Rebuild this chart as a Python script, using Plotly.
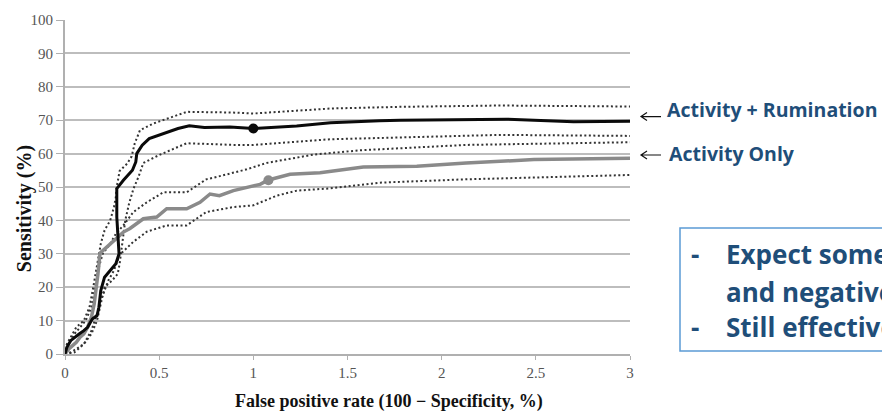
import plotly.graph_objects as go

# ROC curves: sensitivity vs false positive rate (x in %, y in %)
ar_x = [0, 0.01, 0.03, 0.05, 0.075, 0.1, 0.12, 0.145, 0.17, 0.18, 0.19, 0.21, 0.234, 0.27, 0.287,
        0.28, 0.275, 0.275, 0.31, 0.358, 0.376, 0.381, 0.41, 0.447, 0.527, 0.6, 0.66, 0.74, 0.876,
        1.0, 1.23, 1.41, 1.67, 1.78, 2.345, 2.7, 3.0]
ar_y = [0, 2, 4, 5, 6, 7, 8, 10.5, 11.5, 14, 19, 23, 24.5, 27, 30,
        35, 41, 49.5, 52, 55, 57.5, 60, 62.5, 64.5, 66, 67.5, 68.3, 67.8, 68,
        67.5, 68.3, 69.2, 69.8, 70, 70.3, 69.5, 69.7]

ar_hi_x = [0, 0.01, 0.03, 0.06, 0.1, 0.13, 0.15, 0.17, 0.19, 0.21, 0.24, 0.26, 0.27, 0.274, 0.29,
           0.33, 0.354, 0.37, 0.398, 0.469, 0.54, 0.646, 0.89, 1.0, 1.41, 1.78, 2.31, 3.0]
ar_hi_y = [0, 3, 5, 8, 10, 14, 20, 27, 33, 37, 40, 44, 47, 49.8, 54.8,
           57, 59.2, 63, 67, 69, 70.5, 72.5, 72.3, 72, 73.5, 74, 74.4, 74.1]

ar_lo_x = [0, 0.03, 0.06, 0.1, 0.14, 0.17, 0.19, 0.21, 0.25, 0.28, 0.29, 0.3, 0.31, 0.32, 0.34,
           0.363, 0.39, 0.416, 0.505, 0.646, 0.894, 1.0, 1.41, 1.78, 2.31, 3.0]
ar_lo_y = [0, 0.5, 1.5, 3, 6, 10, 15, 20, 22, 24, 27, 31, 36, 40, 45,
           49.4, 53, 57.2, 59.7, 63.1, 62.6, 62.6, 64.3, 64.8, 65.6, 65.3]

ao_x = [0, 0.02, 0.04, 0.06, 0.08, 0.1, 0.12, 0.14, 0.155, 0.165, 0.175, 0.186, 0.23, 0.274, 0.31,
        0.345, 0.38, 0.416, 0.487, 0.54, 0.646, 0.717, 0.77, 0.82, 0.894, 1.036, 1.08, 1.195, 1.354,
        1.584, 1.868, 2.13, 2.49, 3.0]
ao_y = [0, 1.5, 2.5, 3.5, 5, 6, 8, 11, 15, 19, 24, 30.2, 32.5, 34.6, 36.5,
        37.6, 39, 40.5, 41, 43.5, 43.5, 45.4, 47.9, 47.4, 48.9, 50.8, 52.1, 53.8, 54.3,
        56, 56.2, 57.2, 58.2, 58.6]

ao_hi_x = [0, 0.02, 0.05, 0.08, 0.11, 0.14, 0.16, 0.18, 0.2, 0.24, 0.27, 0.31, 0.363, 0.434, 0.522,
           0.646, 0.75, 0.79, 0.965, 1.07, 1.32, 1.57, 2.13, 3.0]
ao_hi_y = [0, 3, 6, 8, 10, 14, 20, 26, 30, 33, 36, 38.5, 42.5, 45.4, 48.4,
           48.4, 52.3, 52.8, 55.3, 57.2, 59.7, 61, 62.6, 63.4]

ao_lo_x = [0, 0.05, 0.1, 0.14, 0.17, 0.19, 0.21, 0.23, 0.26, 0.29, 0.363, 0.434, 0.54, 0.646,
           0.75, 0.894, 1.0, 1.124, 1.23, 1.41, 1.67, 2.13, 3.0]
ao_lo_y = [0, 0.5, 3, 7, 12, 16, 19, 22, 25, 29.7, 33.6, 36.6, 38.5, 38.5,
           42.5, 44, 44.5, 47.4, 48.9, 49.6, 51.3, 52.3, 53.6]

# Operating points highlighted on each curve
ar_point = (1.0, 67.5)
ao_point = (1.08, 52.0)

x_ticks = [0, 0.5, 1, 1.5, 2, 2.5, 3]
x_tick_text = ["0", "0.5", "1", "1.5", "2", "2.5", "3"]
y_ticks = [0, 10, 20, 30, 40, 50, 60, 70, 80, 90, 100]

label_ar = "Activity + Rumination"
label_ao = "Activity Only"
note_lines = ["Expect some false positives", "and negatives", "Still effective"]
note_dashes = ["-", "", "-"]
x_title = "False positive rate (100 \u2212 Specificity, %)"
y_title = "Sensitivity (%)"

W, H = 882, 415
L, R, T, B = 65, 252, 15, 61
PW, PH = W - L - R, H - T - B


def px(xp):
    return (xp - L) / PW


def py(yp):
    return (H - B - yp) / PH


SERIF = "Liberation Serif, Times New Roman, serif"
SANS = "Open Sans, sans-serif"
BLUE = "#1f4e79"
DOT = dict(color="#333333", width=2, dash="2px,2.5px")

fig = go.Figure()
for xs, ys in [(ar_hi_x, ar_hi_y), (ar_lo_x, ar_lo_y), (ao_hi_x, ao_hi_y), (ao_lo_x, ao_lo_y)]:
    fig.add_trace(go.Scatter(x=xs, y=ys, mode="lines", line=DOT, hoverinfo="skip"))

fig.add_trace(go.Scatter(x=ao_x, y=ao_y, mode="lines", name=label_ao,
                         line=dict(color="#8a8a8a", width=3.5)))
fig.add_trace(go.Scatter(x=ar_x, y=ar_y, mode="lines", name=label_ar,
                         line=dict(color="#0a0a0a", width=3)))
fig.add_trace(go.Scatter(x=[ao_point[0]], y=[ao_point[1]], mode="markers",
                         marker=dict(color="#8a8a8a", size=10)))
fig.add_trace(go.Scatter(x=[ar_point[0]], y=[ar_point[1]], mode="markers",
                         marker=dict(color="#0a0a0a", size=10)))

annotations = [
    dict(text=x_title, x=px(389), y=py(402), xref="paper", yref="paper",
         xanchor="center", yanchor="middle", showarrow=False,
         font=dict(family=SERIF, size=18, color="#111", weight="bold")),
    dict(text=y_title, x=px(24), y=py(207), xref="paper", yref="paper",
         xanchor="center", yanchor="middle", showarrow=False, textangle=-90,
         font=dict(family=SERIF, size=20, color="#111", weight="bold")),
    dict(text=label_ar, x=px(665), y=py(106), xref="paper", yref="paper",
         xanchor="left", yanchor="middle", showarrow=False,
         font=dict(family=SANS, size=19.5, color=BLUE, weight="bold")),
    dict(text=label_ao, x=px(667), y=py(150), xref="paper", yref="paper",
         xanchor="left", yanchor="middle", showarrow=False,
         font=dict(family=SANS, size=19.5, color=BLUE, weight="bold")),
]
line_y = [253, 291, 327]
for dash, text, yy in zip(note_dashes, note_lines, line_y):
    if dash:
        annotations.append(dict(text=dash, x=px(689), y=py(yy), xref="paper", yref="paper",
                                xanchor="left", yanchor="middle", showarrow=False,
                                font=dict(family=SANS, size=26, color=BLUE, weight="bold")))
    annotations.append(dict(text=text, x=px(724), y=py(yy), xref="paper", yref="paper",
                            xanchor="left", yanchor="middle", showarrow=False,
                            font=dict(family=SANS, size=26, color=BLUE, weight="bold")))


def arrow_path(tip_x, tip_y, length=20, head=6, spread=4):
    x0, y0 = px(tip_x), py(tip_y)
    x1 = px(tip_x + length)
    hx = px(tip_x + head)
    up, dn = py(tip_y - spread), py(tip_y + spread)
    return f"M {x1},{y0} L {x0},{y0} M {hx},{up} L {x0},{y0} L {hx},{dn}"


shapes = [
    dict(type="path", path=arrow_path(641, 113), xref="paper", yref="paper",
         line=dict(color="#111", width=1.2)),
    dict(type="path", path=arrow_path(641, 152), xref="paper", yref="paper",
         line=dict(color="#111", width=1.2)),
    dict(type="rect", x0=px(680), x1=px(900), y0=py(351), y1=py(226),
         xref="paper", yref="paper", line=dict(color="#5b9bd5", width=1.5)),
]

fig.update_layout(
    width=W, height=H,
    margin=dict(l=L, r=R, t=T, b=B),
    paper_bgcolor="white", plot_bgcolor="white",
    showlegend=False,
    annotations=annotations,
    shapes=shapes,
    xaxis=dict(range=[0, 3], tickvals=x_ticks, ticktext=x_tick_text,
               showgrid=False, zeroline=False, showline=True, linecolor="#b0b0b0", linewidth=2,
               ticks="outside", ticklen=4, tickcolor="#b0b0b0",
               tickfont=dict(family=SERIF, size=15, color="#555")),
    yaxis=dict(range=[0, 100], tickvals=y_ticks,
               showgrid=True, gridcolor="#bdbdbd", gridwidth=2, zeroline=False,
               showline=True, linecolor="#b0b0b0", linewidth=2,
               ticks="outside", ticklen=7, tickcolor="#b0b0b0",
               tickfont=dict(family=SERIF, size=15, color="#555")),
)

fig.write_html("out.html")
